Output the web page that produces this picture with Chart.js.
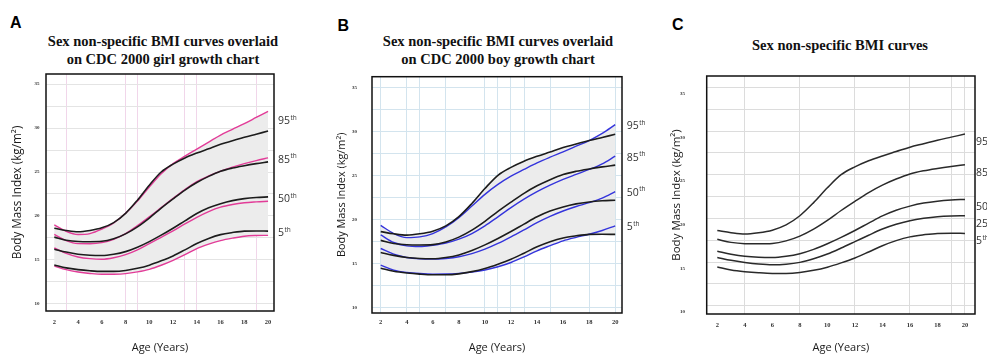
<!DOCTYPE html>
<html><head><meta charset="utf-8">
<script src="https://cdn.jsdelivr.net/npm/chart.js@4.4.1/dist/chart.umd.min.js"></script>
<style>
html,body{margin:0;padding:0;background:#fff;}
body{width:987px;height:354px;position:relative;overflow:hidden;}
canvas{position:absolute;top:0;}
.ttl{position:absolute;width:300px;font-family:"Liberation Serif","Times New Roman",serif;font-weight:bold;font-size:14.5px;line-height:17.7px;text-align:center;color:#111;white-space:nowrap;}
.lett{position:absolute;font-family:"Liberation Sans",Arial,sans-serif;font-weight:bold;font-size:16px;line-height:16px;color:#000;}
</style></head><body>
<div class="lett" style="left:10px;top:14.7px">A</div>
<div class="lett" style="left:337.5px;top:17.7px">B</div>
<div class="lett" style="left:672px;top:16.7px">C</div>
<div class="ttl" style="left:13px;top:33px">Sex non-specific BMI curves overlaid<br>on CDC 2000 girl growth chart</div>
<div class="ttl" style="left:348px;top:33px">Sex non-specific BMI curves overlaid<br>on CDC 2000 boy growth chart</div>
<div class="ttl" style="left:690px;top:37px">Sex non-specific BMI curves</div>
<canvas id="cA" width="330" height="354" style="left:0px"></canvas>
<canvas id="cB" width="330" height="354" style="left:330px"></canvas>
<canvas id="cC" width="327" height="354" style="left:660px"></canvas>
<script>
// ---- data ----
const ages = [2,3,4,5,6,7,8,9,10,11,12,13,14,15,16,17,18,19,20];
const xTickLabels = [2,4,6,8,10,12,14,16,18,20];
const yTickLabels = [10,15,20,25,30,35];
const yGridValues = [10,12.5,15,17.5,20,22.5,25,27.5,30,32.5,35];
const gridAgesA = [3,8,9,13,14,19];
const gridAgesB = [2,4,5,7,10,11,12,13,15,18,20];
const gridAgesC = [4,8,12,16,19,20];

// sex non-specific curves (black)
const sns95 = [18.6,18.35,18.2,18.35,18.65,19.25,20.3,21.8,23.5,25.0,25.9,26.6,27.15,27.65,28.15,28.55,28.95,29.3,29.65];
const sns85 = [17.6,17.25,17.1,17.08,17.12,17.42,17.97,18.77,19.77,20.9,21.95,22.95,23.8,24.5,25.08,25.45,25.72,25.95,26.15];
const sns50 = [16.23,15.9,15.66,15.54,15.51,15.65,15.95,16.45,17.09,17.82,18.61,19.45,20.28,20.93,21.4,21.75,21.97,22.1,22.17];
const sns25 = [15.53,15.2,14.96,14.78,14.69,14.75,14.96,15.38,15.92,16.6,17.33,18.07,18.78,19.33,19.73,20.0,20.19,20.28,20.31];
const sns5  = [14.43,14.1,13.9,13.77,13.7,13.7,13.8,14.05,14.41,14.9,15.46,16.15,16.87,17.45,17.88,18.12,18.28,18.3,18.28];

// CDC 2000 girls (pink)
const girl95 = [19.0,18.26,17.9,18.0,18.5,19.2,20.3,21.7,23.3,24.8,25.95,26.8,27.6,28.4,29.2,29.85,30.5,31.2,31.9];
const girl85 = [17.9,17.2,16.86,16.85,16.97,17.35,18.0,18.9,19.9,20.95,22.0,23.0,23.9,24.55,25.1,25.55,25.95,26.3,26.6];
const girl50 = [16.36,15.75,15.34,15.15,15.08,15.25,15.6,16.15,16.86,17.58,18.3,19.1,19.85,20.5,21.0,21.3,21.5,21.6,21.67];
const girl5  = [14.3,13.9,13.64,13.47,13.37,13.38,13.45,13.65,13.94,14.4,14.96,15.6,16.3,16.8,17.2,17.48,17.7,17.78,17.8];

// CDC 2000 boys (blue)
const boy95 = [19.3,18.38,17.92,18.0,18.38,19.13,20.19,21.5,22.83,23.96,24.9,25.66,26.4,27.05,27.66,28.3,28.94,29.75,30.75];
const boy85 = [18.23,17.36,16.98,16.9,17.05,17.3,17.74,18.38,19.25,20.28,21.32,22.28,23.13,23.87,24.53,25.1,25.66,26.3,27.17];
const boy50 = [16.68,16.04,15.66,15.5,15.47,15.55,15.74,16.1,16.6,17.25,18.0,18.8,19.62,20.33,20.94,21.45,21.89,22.4,23.13];
const boy5  = [14.79,14.23,13.96,13.83,13.77,13.78,13.85,14.0,14.23,14.6,15.09,15.72,16.42,17.0,17.55,17.95,18.3,18.72,19.25];

const pctNames4 = ['95','85','50','5'];
const pctNames5 = ['95','85','50','25','5'];
const pctSuffix = 'th';

// ---- helpers ----
const pts = arr => arr.map((v,i)=>({x:ages[i], y:v}));
const last = arr => arr[arr.length-1];
const union = (a,b) => Array.from(new Set(a.concat(b))).sort((p,q)=>p-q);

const BLACK = '#1c1c1c', PINK = '#e23c98', BLUE = '#3434dc', BAND = '#ececec';

function line(label, arr, color, width, fill){
  return {label, data: pts(arr), borderColor: color, backgroundColor: BAND, borderWidth: width,
          pointRadius: 0, cubicInterpolationMode: 'monotone', fill: fill === undefined ? false : fill};
}

const boxPlugin = {
  id: 'box',
  afterDraw(chart, args, o){
    const {ctx, chartArea: a} = chart;
    ctx.save(); ctx.strokeStyle = o.color; ctx.lineWidth = o.width;
    ctx.strokeRect(a.left, a.top, a.right - a.left, a.bottom - a.top);
    ctx.restore();
  }
};
const pctPlugin = {
  id: 'pct',
  afterDraw(chart, args, o){
    const ctx = chart.ctx, ys = chart.scales.y;
    ctx.save();
    ctx.fillStyle = o.color; ctx.textAlign = 'left'; ctx.textBaseline = 'middle';
    o.items.forEach(it => {
      const px = chart.chartArea.right + o.gap;
      const py = ys.getPixelForValue(it.value) + o.dy;
      ctx.font = o.size + 'px "Open Sans"';
      ctx.fillText(it.name, px, py);
      const w = ctx.measureText(it.name).width;
      ctx.font = (o.size * 0.62) + 'px "Open Sans"';
      ctx.fillText(pctSuffix, px + w + 0.5, py - o.size * 0.32);
    });
    ctx.restore();
  }
};

function makeChart(id, p){
  const xTicks = union(xTickLabels, p.gridAges);
  new Chart(document.getElementById(id), {
    type: 'line',
    data: {datasets: p.datasets},
    plugins: [boxPlugin, pctPlugin],
    options: {
      responsive: false, animation: false, devicePixelRatio: 1,
      layout: {padding: p.padding},
      plugins: {
        legend: {display: false}, tooltip: {enabled: false},
        filler: {drawTime: 'beforeDatasetsDraw'},
        box: {color: '#111', width: 1.5},
        pct: {items: p.pct, gap: p.pctGap, dy: p.pctDy, size: 10.5, color: '#333'}
      },
      scales: {
        x: {
          type: 'linear', min: p.xMin, max: p.xMax, bounds: 'data',
          afterBuildTicks: s => { s.ticks = xTicks.map(v => ({value: v})); },
          afterFit: s => { s.height = p.xH; },
          grid: {drawTicks: false, lineWidth: 1,
                 color: c => (c.tick && p.gridAges.includes(c.tick.value)) ? p.vGrid : 'rgba(0,0,0,0)'},
          border: {display: false},
          ticks: {autoSkip: false, maxRotation: 0, padding: p.xPad, color: '#333',
                  font: {family: 'Liberation Serif', size: 6.5, weight: 'bold'},
                  callback: v => xTickLabels.includes(v) ? String(v) : ''},
          title: {display: true, text: 'Age (Years)', color: '#1a1a1a',
                  font: {family: 'Open Sans', size: 11}, padding: {top: 0, bottom: 0}}
        },
        y: {
          type: 'linear', min: p.yMin, max: p.yMax, bounds: 'data',
          afterBuildTicks: s => { s.ticks = yGridValues.map(v => ({value: v})); },
          afterFit: s => { s.width = p.yW; },
          grid: {drawTicks: false, lineWidth: 1, color: p.hGrid},
          border: {display: false},
          ticks: {autoSkip: false, padding: p.yPad, labelOffset: p.yLabelOffset || 0, color: '#333',
                  font: {family: 'Liberation Serif', size: 5, weight: 'bold'},
                  callback: v => yTickLabels.includes(v) ? String(v) : ''},
          title: {display: true, text: 'Body Mass Index (kg/m²)', color: '#1a1a1a',
                  font: {family: 'Open Sans', size: p.titleSize}, padding: {top: 0, bottom: 0}}
        }
      }
    }
  });
}

// Panel A
makeChart('cA', {
  padding: {left: 11, right: 56, top: 74, bottom: 0}, yW: 35, xH: 43,
  xMin: 1.3, xMax: 20.5, yMin: 9.2, yMax: 36.14, xPad: 7.5, yPad: 6.5, titleSize: 11.7,
  gridAges: gridAgesA, vGrid: '#f1d6ea', hGrid: '#e4e4e4',
  datasets: [
    line('Sex non-specific 95th', sns95, BLACK, 1.6, 3),
    line('Sex non-specific 85th', sns85, BLACK, 1.6),
    line('Sex non-specific 50th', sns50, BLACK, 1.6),
    line('Sex non-specific 5th', sns5, BLACK, 1.6),
    line('CDC girls 95th', girl95, PINK, 1.4, 7),
    line('CDC girls 85th', girl85, PINK, 1.4),
    line('CDC girls 50th', girl50, PINK, 1.4),
    line('CDC girls 5th', girl5, PINK, 1.4)
  ],
  pct: [sns95, sns85, sns50, sns5].map((a, i) => ({name: pctNames4[i], value: (last(a) + last([girl95, girl85, girl50, girl5][i])) / 2})),
  pctGap: 4, pctDy: 0
});

// Panel B
makeChart('cB', {
  padding: {left: 5.5, right: 38, top: 76.7, bottom: 0}, yW: 36.5, xH: 41,
  xMin: 1.333, xMax: 20.52, yMin: 9.35, yMax: 36.2, xPad: 5.5, yPad: 15, titleSize: 10.9,
  gridAges: gridAgesB, vGrid: '#d3e4ee', hGrid: '#d3e4ee',
  datasets: [
    line('Sex non-specific 95th', sns95, BLACK, 1.6, 3),
    line('Sex non-specific 85th', sns85, BLACK, 1.6),
    line('Sex non-specific 50th', sns50, BLACK, 1.6),
    line('Sex non-specific 5th', sns5, BLACK, 1.6),
    line('CDC boys 95th', boy95, BLUE, 1.4, 7),
    line('CDC boys 85th', boy85, BLUE, 1.4),
    line('CDC boys 50th', boy50, BLUE, 1.4),
    line('CDC boys 5th', boy5, BLUE, 1.4)
  ],
  pct: [sns95, sns85, sns50, sns5].map((a, i) => ({name: pctNames4[i], value: (last(a) + last([boy95, boy85, boy50, boy5][i])) / 2})),
  pctGap: 4.7, pctDy: -3
});

// Panel C
makeChart('cC', {
  padding: {left: 10, right: 12, top: 76, bottom: 0}, yW: 36.7, xH: 40,
  xMin: 1.23, xMax: 20.73, yMin: 9.05, yMax: 36.3, xPad: 7.5, yPad: 21.7, yLabelOffset: 6.5, titleSize: 11.5,
  gridAges: gridAgesC, vGrid: '#dcdcdc', hGrid: '#dcdcdc',
  datasets: [
    line('Sex non-specific 95th', sns95, '#2a2a2a', 1.5),
    line('Sex non-specific 85th', sns85, '#2a2a2a', 1.5),
    line('Sex non-specific 50th', sns50, '#2a2a2a', 1.5),
    line('Sex non-specific 25th', sns25, '#2a2a2a', 1.5),
    line('Sex non-specific 5th', sns5, '#2a2a2a', 1.5)
  ],
  pct: [sns95, sns85, sns50, sns25, sns5].map((a, i) => ({name: pctNames5[i], value: last(a)})),
  pctGap: 1, pctDy: 8
});
</script>
</body></html>
